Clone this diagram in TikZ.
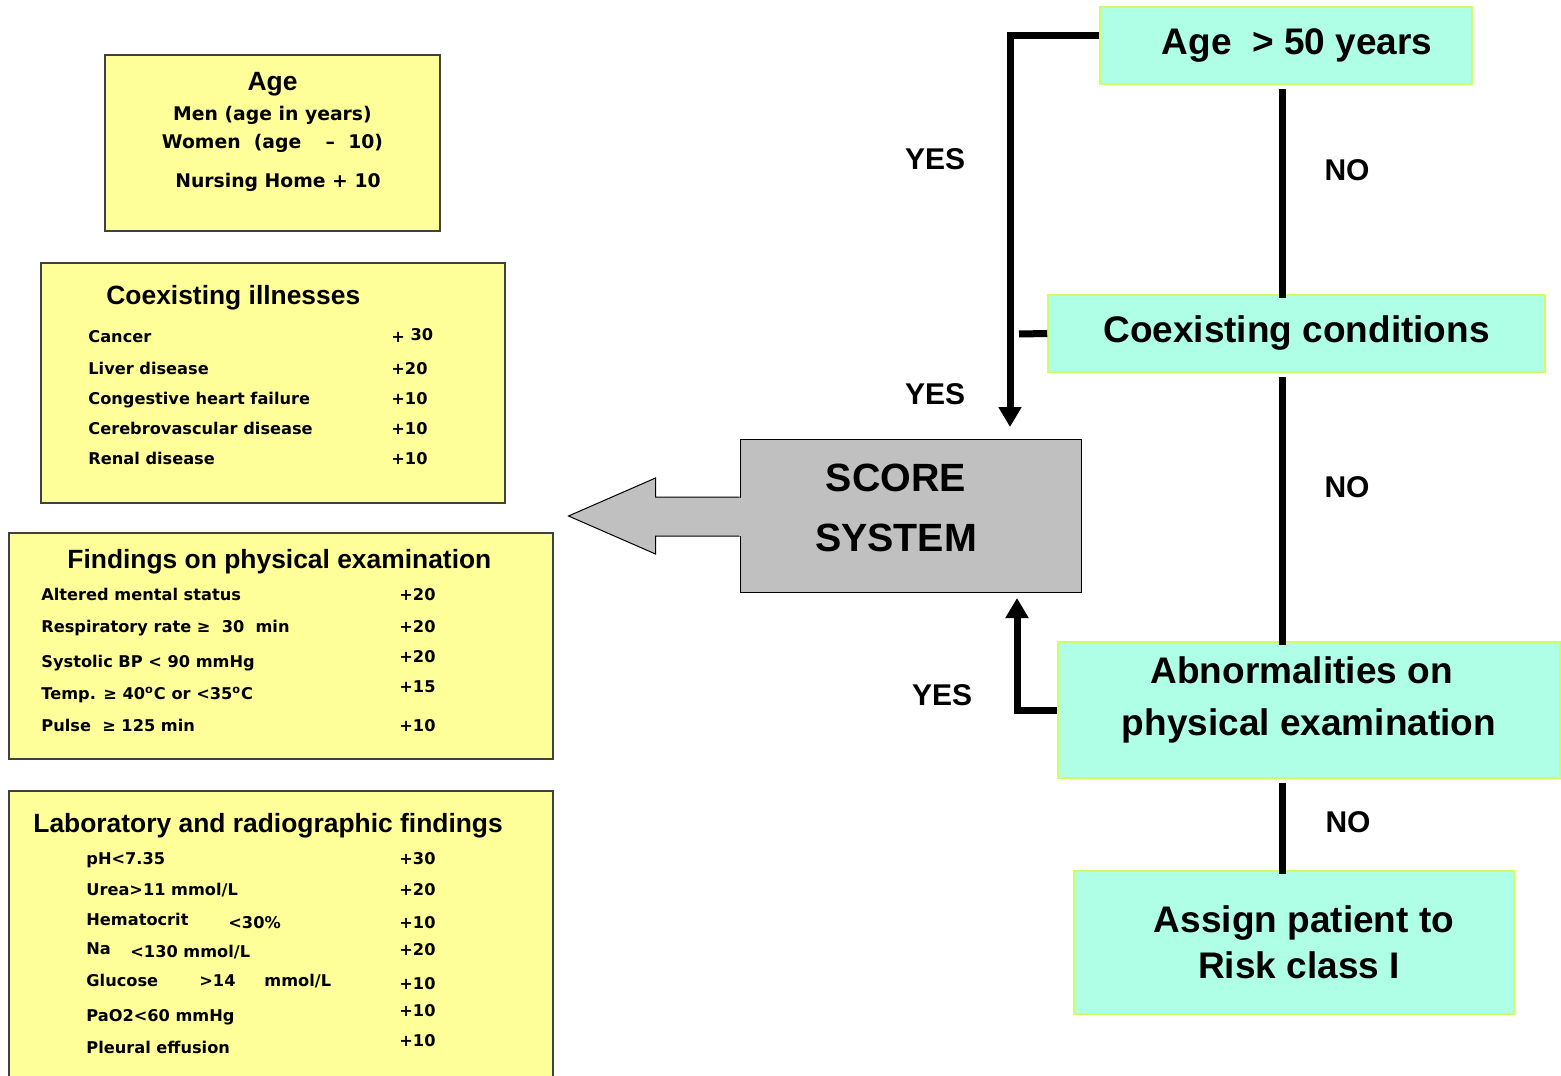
\documentclass[tikz,border=0pt]{standalone}
\usepackage{fontspec}
\setmainfont{Liberation Sans}
\newfontfamily\riskitemface{DejaVu Sans}
\usepackage{tikz}
\usetikzlibrary{arrows.meta}
\newcommand{\riskitemfont}{\riskitemface\bfseries\fontsize{8.1}{9.5}\selectfont}
\newcommand{\riskagefont}{\riskitemface\bfseries\fontsize{9.4}{11}\selectfont}
\newcommand{\riskheadfont}{\bfseries\fontsize{13.2}{15}\selectfont}
\newcommand{\riskstepfont}{\bfseries\fontsize{18.5}{26}\selectfont}
\newcommand{\riskassignfont}{\bfseries\fontsize{18.5}{23}\selectfont}
\newcommand{\riskscorefont}{\bfseries\fontsize{19.7}{30}\selectfont}
\newcommand{\riskanswerfont}{\bfseries\fontsize{15}{18}\selectfont}
\definecolor{panelyellow}{HTML}{FFFF99}
\definecolor{panelborder}{HTML}{404040}
\definecolor{stepfill}{HTML}{AFFFE6}
\definecolor{stepborder}{HTML}{CCFF66}
\definecolor{scoregray}{HTML}{C0C0C0}
\tikzset{
    risk/chart/.style={x=0.5pt, y=-0.5pt, every node/.style={align=center}},
    risk/panel/.style={rectangle, draw=panelborder, fill=panelyellow, line width=0.6pt, inner sep=0pt},
    risk/criterion/.style={rectangle, draw=stepborder, fill=stepfill, line width=0.8pt, inner sep=0pt, font=\riskstepfont},
    risk/scorebox/.style={rectangle, draw=black, fill=scoregray, line width=0.5pt, inner sep=0pt},
    risk/line/.style={inner sep=0pt, text height=0.72em, text depth=0pt},
    risk/heading/.style={risk/line, anchor=west, font=\riskheadfont},
    risk/item/.style={risk/line, anchor=west, font=\riskitemfont},
    risk/flow/.style={line width=3.5pt, draw=black},
    risk/arrow/.style={risk/flow, -{Triangle[width=11pt,length=10pt]}},
    risk/answer/.style={risk/line, font=\riskanswerfont}
}

\begin{document}
\begin{tikzpicture}[risk/chart]
    \useasboundingbox (0,0) rectangle (1561,1075);
    \clip (0,0) rectangle (1561,1075);
    % score panels on the left
    \node[risk/panel, minimum width=167.5pt, minimum height=88pt] (agepanel) at (272.5,143) {};
    \node[risk/panel, minimum width=232pt, minimum height=120pt] (illpanel) at (273,383) {};
    \node[risk/panel, minimum width=272pt, minimum height=113pt] (exampanel) at (281,646) {};
    \node[risk/panel, minimum width=272pt, minimum height=154.5pt] (labpanel) at (281,945.5) {};
    \node[risk/line, font=\riskheadfont] (agehead) at (272.5,83) {Age};
    \node[risk/line, font=\riskagefont] (agemen) at (272.5,113) {Men (age in years)};
    \node[risk/line, font=\riskagefont] (agewomen) at (272.5,141) {Women\ \ (age\hspace{1.3em}–\hspace{0.7em}10)};
    \node[risk/line, font=\riskagefont] (agehome) at (278,180) {Nursing Home + 10};
    \node[risk/heading] (illhead) at (106,297) {Coexisting illnesses};
    \foreach \txt/\y [count=\i] in {Cancer/335, Liver disease/367, Congestive heart failure/397, Cerebrovascular disease/427, Renal disease/457}
        \node[risk/item] (ill\i) at (88,\y) {\txt};
    \foreach \val/\y [count=\i] in {{+ \raisebox{0.8pt}{30}}/335, +20/367, +10/397, +10/427, +10/457}
        \node[risk/item] (illpts\i) at (391,\y) {\val};
    \node[risk/heading] (examhead) at (67,561) {Findings on physical examination};
    \foreach \txt/\y [count=\i] in {Altered mental status/593, {Respiratory rate ≥\ \ 30\ \ min}/625, Systolic BP < 90 mmHg/660, {Temp. ≥ 40\textsuperscript{o}C or <35\textsuperscript{o}C}/692, {Pulse\ \ ≥ 125 min}/724}
        \node[risk/item] (exam\i) at (41,\y) {\txt};
    \foreach \val/\y [count=\i] in {+20/593, +20/625, +20/655, +15/685, +10/724}
        \node[risk/item] (exampts\i) at (399,\y) {\val};
    \node[risk/heading] (labhead) at (33,825) {Laboratory and radiographic findings};
    \foreach \txt/\y [count=\i] in {pH<7.35/857, {Urea>11 mmol/L}/888, Hematocrit/918, Na/947, Glucose/979, PaO2<60 mmHg/1014, Pleural effusion/1046}
        \node[risk/item] (lab\i) at (86,\y) {\txt};
    \node[risk/item] (labhct) at (228,921) {<30\%};
    \node[risk/item] (labna) at (130,950) {<130 mmol/L};
    \node[risk/item] (labglu) at (199,979) {>14};
    \node[risk/item] (labgluunit) at (264,979) {mmol/L};
    \foreach \val/\y [count=\i] in {+30/857, +20/888, +10/921, +20/948, +10/982, +10/1009, +10/1039}
        \node[risk/item] (labpts\i) at (399,\y) {\val};
    % score system and its big arrow
    \node[risk/scorebox, minimum width=170.5pt, minimum height=76.5pt] (score) at (910.5,515.5) {};
    \node[font=\riskscorefont, inner sep=0pt] (scoretext) at (896,508) {SCORE\\SYSTEM};
    \draw[fill=scoregray, line width=0.5pt] ([shift={(0,-18.5)}]score.west) -- ([shift={(-84,-18.5)}]score.west) -- ([shift={(-84,-37.5)}]score.west) -- ([shift={(-171,0.5)}]score.west) -- ([shift={(-84,38.5)}]score.west) -- ([shift={(-84,20.5)}]score.west) -- ([shift={(0,20.5)}]score.west);
    \fill[scoregray] ([shift={(-1,-18)}]score.west) rectangle ([shift={(1.5,20)}]score.west);
    % decision steps on the right
    \node[risk/criterion, minimum width=186pt, minimum height=38.5pt] (age50) at (1286,45.5) {\hspace*{11pt}Age\ \ > 50 years};
    \node[risk/criterion, minimum width=248.5pt, minimum height=38.5pt] (cond) at (1296.5,333.5) {Coexisting conditions};
    \node[risk/criterion, minimum width=251pt, minimum height=68pt] (abn) at (1309,710) {};
    \node[font=\riskstepfont, inner sep=0pt] (abntext) at (1309,700) {\hspace*{-0.4em}Abnormalities on\\physical examination};
    \node[risk/criterion, font=\riskassignfont, minimum width=220pt, minimum height=71.5pt] (assign) at (1294,942.5) {\hspace*{10pt}Assign patient to\\\hspace*{5pt}Risk class I};
    \coordinate (spine) at (1282,0);
    \coordinate (yesdown) at (1010,427);
    \coordinate (yesup) at (1017,598);
    \coordinate (condstub) at (1019,334);
    \foreach \source/\target in {age50/cond,cond/abn,abn/assign}
        \draw[risk/flow] ([yshift=-2pt]\source.south -| spine) -- ([yshift=-2pt]\target.north -| spine);
    \draw[risk/arrow] ([yshift=5pt]age50.west) -| (yesdown);
    \draw[risk/flow] (cond.west) -- (condstub);
    \draw[risk/arrow] (abn.west) -| (yesup);
    \node[risk/answer] (yesage) at (935,162) {YES};
    \node[risk/answer] (yescond) at (935,397) {YES};
    \node[risk/answer] (yesabn) at (942,698) {YES};
    \node[risk/answer] (noage) at (1347,173) {NO};
    \node[risk/answer] (nocond) at (1347,490) {NO};
    \node[risk/answer] (noabn) at (1348,825) {NO};
\end{tikzpicture}
\end{document}
